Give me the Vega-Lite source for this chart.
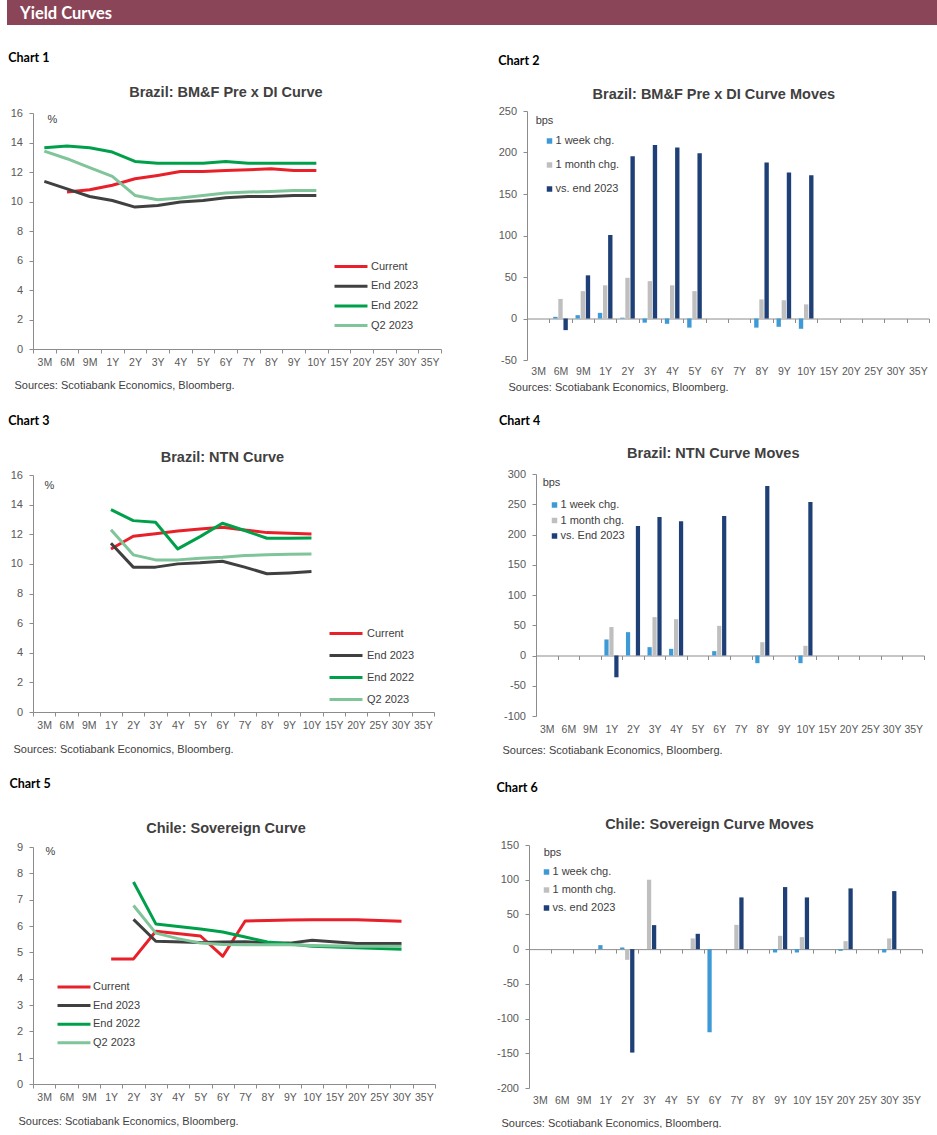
{
  "$schema": "https://vega.github.io/schema/vega-lite/v6.json",
  "background": "white",
  "padding": {"left": 7, "top": 0, "right": 0, "bottom": 0},
  "config": {
    "font": "Liberation Sans",
    "view": {"stroke": null},
    "axis": {"grid": false, "domainColor": "#8c8c8c", "tickColor": "#8c8c8c", "labelColor": "#595959", "labelFont": "Liberation Sans", "titleFont": "Liberation Sans", "titleFontWeight": "normal", "titleColor": "#404040", "titleFontSize": 11},
    "axisX": {"labelAngle": 0, "labelFontSize": 10.5, "tickSize": 4, "labelPadding": 4, "titleAlign": "left", "titleBaseline": "middle", "tickBand": "extent"},
    "axisY": {"labelFontSize": 11, "tickSize": 4, "labelPadding": 6.5, "titleAngle": 0, "titleAlign": "center", "titleBaseline": "middle", "labelOverlap": false, "labelExpr": "'' + datum.value"},
    "legend": {"labelFont": "Liberation Sans", "labelFontSize": 11, "labelColor": "#404040", "padding": 0},
    "title": {"font": "Liberation Sans", "fontSize": 14.5, "fontWeight": "bold", "color": "#404040", "frame": "bounds"}
  },
  "datasets": {
    "c1": [
      {"t": "6M", "s": "Current", "v": 10.64}, {"t": "9M", "s": "Current", "v": 10.8}, {"t": "1Y", "s": "Current", "v": 11.1}, {"t": "2Y", "s": "Current", "v": 11.54}, {"t": "3Y", "s": "Current", "v": 11.77}, {"t": "4Y", "s": "Current", "v": 12.03}, {"t": "5Y", "s": "Current", "v": 12.04}, {"t": "6Y", "s": "Current", "v": 12.1}, {"t": "7Y", "s": "Current", "v": 12.15}, {"t": "8Y", "s": "Current", "v": 12.22}, {"t": "9Y", "s": "Current", "v": 12.1}, {"t": "10Y", "s": "Current", "v": 12.1},
      {"t": "3M", "s": "End 2023", "v": 11.36}, {"t": "6M", "s": "End 2023", "v": 10.86}, {"t": "9M", "s": "End 2023", "v": 10.34}, {"t": "1Y", "s": "End 2023", "v": 10.07}, {"t": "2Y", "s": "End 2023", "v": 9.62}, {"t": "3Y", "s": "End 2023", "v": 9.73}, {"t": "4Y", "s": "End 2023", "v": 9.96}, {"t": "5Y", "s": "End 2023", "v": 10.07}, {"t": "6Y", "s": "End 2023", "v": 10.25}, {"t": "7Y", "s": "End 2023", "v": 10.34}, {"t": "8Y", "s": "End 2023", "v": 10.34}, {"t": "9Y", "s": "End 2023", "v": 10.41}, {"t": "10Y", "s": "End 2023", "v": 10.41},
      {"t": "3M", "s": "End 2022", "v": 13.65}, {"t": "6M", "s": "End 2022", "v": 13.76}, {"t": "9M", "s": "End 2022", "v": 13.65}, {"t": "1Y", "s": "End 2022", "v": 13.35}, {"t": "2Y", "s": "End 2022", "v": 12.72}, {"t": "3Y", "s": "End 2022", "v": 12.6}, {"t": "4Y", "s": "End 2022", "v": 12.6}, {"t": "5Y", "s": "End 2022", "v": 12.6}, {"t": "6Y", "s": "End 2022", "v": 12.72}, {"t": "7Y", "s": "End 2022", "v": 12.6}, {"t": "8Y", "s": "End 2022", "v": 12.6}, {"t": "9Y", "s": "End 2022", "v": 12.6}, {"t": "10Y", "s": "End 2022", "v": 12.6},
      {"t": "3M", "s": "Q2 2023", "v": 13.42}, {"t": "6M", "s": "Q2 2023", "v": 12.9}, {"t": "9M", "s": "Q2 2023", "v": 12.29}, {"t": "1Y", "s": "Q2 2023", "v": 11.7}, {"t": "2Y", "s": "Q2 2023", "v": 10.41}, {"t": "3Y", "s": "Q2 2023", "v": 10.12}, {"t": "4Y", "s": "Q2 2023", "v": 10.23}, {"t": "5Y", "s": "Q2 2023", "v": 10.41}, {"t": "6Y", "s": "Q2 2023", "v": 10.57}, {"t": "7Y", "s": "Q2 2023", "v": 10.64}, {"t": "8Y", "s": "Q2 2023", "v": 10.68}, {"t": "9Y", "s": "Q2 2023", "v": 10.75}, {"t": "10Y", "s": "Q2 2023", "v": 10.75}
    ],
    "c3": [
      {"t": "1Y", "s": "Current", "v": 11.0}, {"t": "2Y", "s": "Current", "v": 11.87}, {"t": "3Y", "s": "Current", "v": 12.04}, {"t": "4Y", "s": "Current", "v": 12.22}, {"t": "5Y", "s": "Current", "v": 12.36}, {"t": "6Y", "s": "Current", "v": 12.47}, {"t": "7Y", "s": "Current", "v": 12.29}, {"t": "8Y", "s": "Current", "v": 12.11}, {"t": "9Y", "s": "Current", "v": 12.07}, {"t": "10Y", "s": "Current", "v": 12.02},
      {"t": "1Y", "s": "End 2023", "v": 11.39}, {"t": "2Y", "s": "End 2023", "v": 9.78}, {"t": "3Y", "s": "End 2023", "v": 9.78}, {"t": "4Y", "s": "End 2023", "v": 10.0}, {"t": "5Y", "s": "End 2023", "v": 10.07}, {"t": "6Y", "s": "End 2023", "v": 10.18}, {"t": "7Y", "s": "End 2023", "v": 9.78}, {"t": "8Y", "s": "End 2023", "v": 9.33}, {"t": "9Y", "s": "End 2023", "v": 9.39}, {"t": "10Y", "s": "End 2023", "v": 9.48},
      {"t": "1Y", "s": "End 2022", "v": 13.66}, {"t": "2Y", "s": "End 2022", "v": 12.92}, {"t": "3Y", "s": "End 2022", "v": 12.81}, {"t": "4Y", "s": "End 2022", "v": 11.01}, {"t": "5Y", "s": "End 2022", "v": 11.84}, {"t": "6Y", "s": "End 2022", "v": 12.74}, {"t": "7Y", "s": "End 2022", "v": 12.25}, {"t": "8Y", "s": "End 2022", "v": 11.73}, {"t": "9Y", "s": "End 2022", "v": 11.73}, {"t": "10Y", "s": "End 2022", "v": 11.75},
      {"t": "1Y", "s": "Q2 2023", "v": 12.31}, {"t": "2Y", "s": "Q2 2023", "v": 10.61}, {"t": "3Y", "s": "Q2 2023", "v": 10.27}, {"t": "4Y", "s": "Q2 2023", "v": 10.27}, {"t": "5Y", "s": "Q2 2023", "v": 10.38}, {"t": "6Y", "s": "Q2 2023", "v": 10.45}, {"t": "7Y", "s": "Q2 2023", "v": 10.56}, {"t": "8Y", "s": "Q2 2023", "v": 10.61}, {"t": "9Y", "s": "Q2 2023", "v": 10.65}, {"t": "10Y", "s": "Q2 2023", "v": 10.67}
    ],
    "c5": [
      {"t": "1Y", "s": "Current", "v": 4.75}, {"t": "2Y", "s": "Current", "v": 4.75}, {"t": "3Y", "s": "Current", "v": 5.8}, {"t": "5Y", "s": "Current", "v": 5.62}, {"t": "6Y", "s": "Current", "v": 4.85}, {"t": "7Y", "s": "Current", "v": 6.19}, {"t": "8Y", "s": "Current", "v": 6.21}, {"t": "9Y", "s": "Current", "v": 6.23}, {"t": "10Y", "s": "Current", "v": 6.24}, {"t": "20Y", "s": "Current", "v": 6.24}, {"t": "30Y", "s": "Current", "v": 6.18},
      {"t": "2Y", "s": "End 2023", "v": 6.25}, {"t": "3Y", "s": "End 2023", "v": 5.42}, {"t": "5Y", "s": "End 2023", "v": 5.37}, {"t": "6Y", "s": "End 2023", "v": 5.39}, {"t": "7Y", "s": "End 2023", "v": 5.4}, {"t": "8Y", "s": "End 2023", "v": 5.36}, {"t": "9Y", "s": "End 2023", "v": 5.35}, {"t": "10Y", "s": "End 2023", "v": 5.46}, {"t": "20Y", "s": "End 2023", "v": 5.34}, {"t": "30Y", "s": "End 2023", "v": 5.34},
      {"t": "2Y", "s": "End 2022", "v": 7.67}, {"t": "3Y", "s": "End 2022", "v": 6.08}, {"t": "5Y", "s": "End 2022", "v": 5.89}, {"t": "6Y", "s": "End 2022", "v": 5.77}, {"t": "7Y", "s": "End 2022", "v": 5.58}, {"t": "8Y", "s": "End 2022", "v": 5.39}, {"t": "9Y", "s": "End 2022", "v": 5.32}, {"t": "10Y", "s": "End 2022", "v": 5.23}, {"t": "20Y", "s": "End 2022", "v": 5.17}, {"t": "30Y", "s": "End 2022", "v": 5.12},
      {"t": "2Y", "s": "Q2 2023", "v": 6.78}, {"t": "3Y", "s": "Q2 2023", "v": 5.73}, {"t": "4Y", "s": "Q2 2023", "v": 5.52}, {"t": "5Y", "s": "Q2 2023", "v": 5.35}, {"t": "6Y", "s": "Q2 2023", "v": 5.3}, {"t": "7Y", "s": "Q2 2023", "v": 5.29}, {"t": "8Y", "s": "Q2 2023", "v": 5.29}, {"t": "9Y", "s": "Q2 2023", "v": 5.29}, {"t": "10Y", "s": "Q2 2023", "v": 5.26}, {"t": "20Y", "s": "Q2 2023", "v": 5.23}, {"t": "30Y", "s": "Q2 2023", "v": 5.23}
    ],
    "b2": [
      {"t": "6M", "s": "1 week chg.", "v": 2}, {"t": "6M", "s": "1 month chg.", "v": 23.6}, {"t": "6M", "s": "vs. end 2023", "v": -14},
      {"t": "9M", "s": "1 week chg.", "v": 4}, {"t": "9M", "s": "1 month chg.", "v": 33}, {"t": "9M", "s": "vs. end 2023", "v": 52},
      {"t": "1Y", "s": "1 week chg.", "v": 6.8}, {"t": "1Y", "s": "1 month chg.", "v": 40}, {"t": "1Y", "s": "vs. end 2023", "v": 100.6},
      {"t": "2Y", "s": "1 week chg.", "v": 1}, {"t": "2Y", "s": "1 month chg.", "v": 49}, {"t": "2Y", "s": "vs. end 2023", "v": 195.5},
      {"t": "3Y", "s": "1 week chg.", "v": -5}, {"t": "3Y", "s": "1 month chg.", "v": 45}, {"t": "3Y", "s": "vs. end 2023", "v": 209},
      {"t": "4Y", "s": "1 week chg.", "v": -6.4}, {"t": "4Y", "s": "1 month chg.", "v": 40}, {"t": "4Y", "s": "vs. end 2023", "v": 206},
      {"t": "5Y", "s": "1 week chg.", "v": -11}, {"t": "5Y", "s": "1 month chg.", "v": 33}, {"t": "5Y", "s": "vs. end 2023", "v": 199},
      {"t": "8Y", "s": "1 week chg.", "v": -11}, {"t": "8Y", "s": "1 month chg.", "v": 23}, {"t": "8Y", "s": "vs. end 2023", "v": 188},
      {"t": "9Y", "s": "1 week chg.", "v": -10}, {"t": "9Y", "s": "1 month chg.", "v": 22}, {"t": "9Y", "s": "vs. end 2023", "v": 176},
      {"t": "10Y", "s": "1 week chg.", "v": -12.4}, {"t": "10Y", "s": "1 month chg.", "v": 17}, {"t": "10Y", "s": "vs. end 2023", "v": 172.7}
    ],
    "b4": [
      {"t": "1Y", "s": "1 week chg.", "v": 26.5}, {"t": "1Y", "s": "1 month chg.", "v": 47}, {"t": "1Y", "s": "vs. End 2023", "v": -36},
      {"t": "2Y", "s": "1 week chg.", "v": 38.6}, {"t": "2Y", "s": "vs. End 2023", "v": 214},
      {"t": "3Y", "s": "1 week chg.", "v": 13.8}, {"t": "3Y", "s": "1 month chg.", "v": 63.4}, {"t": "3Y", "s": "vs. End 2023", "v": 229},
      {"t": "4Y", "s": "1 week chg.", "v": 11}, {"t": "4Y", "s": "1 month chg.", "v": 60}, {"t": "4Y", "s": "vs. End 2023", "v": 222},
      {"t": "6Y", "s": "1 week chg.", "v": 7.2}, {"t": "6Y", "s": "1 month chg.", "v": 49}, {"t": "6Y", "s": "vs. End 2023", "v": 230.5},
      {"t": "8Y", "s": "1 week chg.", "v": -12.7}, {"t": "8Y", "s": "1 month chg.", "v": 22}, {"t": "8Y", "s": "vs. End 2023", "v": 280},
      {"t": "10Y", "s": "1 week chg.", "v": -12.7}, {"t": "10Y", "s": "1 month chg.", "v": 16}, {"t": "10Y", "s": "vs. End 2023", "v": 253.7}
    ],
    "b6": [
      {"t": "1Y", "s": "1 week chg.", "v": 5.8},
      {"t": "2Y", "s": "1 week chg.", "v": 2.4}, {"t": "2Y", "s": "1 month chg.", "v": -15.4}, {"t": "2Y", "s": "vs. end 2023", "v": -149},
      {"t": "3Y", "s": "1 month chg.", "v": 100}, {"t": "3Y", "s": "vs. end 2023", "v": 34.6},
      {"t": "5Y", "s": "1 month chg.", "v": 15.4}, {"t": "5Y", "s": "vs. end 2023", "v": 22.1},
      {"t": "6Y", "s": "1 week chg.", "v": -119.7},
      {"t": "7Y", "s": "1 month chg.", "v": 35}, {"t": "7Y", "s": "vs. end 2023", "v": 74.5},
      {"t": "9Y", "s": "1 week chg.", "v": -4.8}, {"t": "9Y", "s": "1 month chg.", "v": 19.2}, {"t": "9Y", "s": "vs. end 2023", "v": 89.4},
      {"t": "10Y", "s": "1 week chg.", "v": -4.8}, {"t": "10Y", "s": "1 month chg.", "v": 17.3}, {"t": "10Y", "s": "vs. end 2023", "v": 74.5},
      {"t": "20Y", "s": "1 week chg.", "v": -2.4}, {"t": "20Y", "s": "1 month chg.", "v": 11.5}, {"t": "20Y", "s": "vs. end 2023", "v": 87.5},
      {"t": "30Y", "s": "1 week chg.", "v": -4.8}, {"t": "30Y", "s": "1 month chg.", "v": 15.4}, {"t": "30Y", "s": "vs. end 2023", "v": 83.6}
    ]
  },
  "columns": 1,
  "spacing": 27,
  "resolve": {"scale": {"color": "independent", "strokeWidth": "independent", "xOffset": "independent", "x": "independent", "y": "independent"}, "legend": {"color": "independent"}},
  "concat": [
    {
      "width": 930, "height": 25,
      "view": {"fill": "#8B4558", "stroke": null},
      "data": {"values": [{"t": "Yield Curves"}]},
      "mark": {"type": "text", "opacity": 0},
      "encoding": {"text": {"field": "t"}},
      "title": {"text": "Yield Curves", "orient": "bottom", "anchor": "start", "frame": "group", "offset": -19, "dx": 13, "baseline": "top", "font": "Lato", "fontSize": 16.5, "fontWeight": "bold", "color": "white"}
    },
    {
      "spacing": 0,
      "resolve": {"scale": {"color": "independent", "strokeWidth": "independent", "xOffset": "independent", "x": "independent", "y": "independent"}, "legend": {"color": "independent"}},
      "hconcat": [
        {
          "width": 1, "height": 1,
          "data": {"values": [{"t": ""}]},
          "mark": {"type": "text", "opacity": 0},
          "encoding": {"text": {"field": "t"}}
        },
        {
          "spacing": 23,
          "resolve": {"scale": {"color": "independent", "strokeWidth": "independent", "xOffset": "independent", "x": "independent", "y": "independent"}, "legend": {"color": "independent"}},
          "vconcat": [
            {
              "spacing": 56,
              "center": true,
              "resolve": {"scale": {"color": "independent", "strokeWidth": "independent", "xOffset": "independent", "x": "independent", "y": "independent"}, "legend": {"color": "independent"}},
              "hconcat": [
                {
                  "title": {"text": "Chart 1", "anchor": "start", "font": "Lato", "fontSize": 12.5, "fontWeight": "bold", "color": "black", "offset": 20, "dx": -2},
                  "vconcat": [{
                    "width": 408, "height": 236,
                    "title": {"text": "Brazil: BM&F Pre x DI Curve", "offset": 7},
                    "data": {"name": "c1"},
                    "mark": {"type": "line", "strokeJoin": "round"},
                    "encoding": {
                      "x": {"field": "t", "type": "nominal", "scale": {"type": "band", "domain": ["3M","6M","9M","1Y","2Y","3Y","4Y","5Y","6Y","7Y","8Y","9Y","10Y","15Y","20Y","25Y","30Y","35Y"], "paddingInner": 0, "paddingOuter": 0},
                            "axis": {"title": "Sources: Scotiabank Economics, Bloomberg.", "titleX": -19, "titleY": 36}},
                      "y": {"field": "v", "type": "quantitative", "scale": {"domain": [0, 16], "nice": false}, "axis": {"values": [0,2,4,6,8,10,12,14,16], "title": "%", "titleX": 19, "titleY": 6}},
                      "color": {"field": "s", "type": "nominal", "scale": {"domain": ["Current","End 2023","End 2022","Q2 2023"], "range": ["#E8202A","#404040","#00A04B","#80C49A"]},
                                "legend": {"title": null, "orient": "none", "legendX": 312, "legendY": 147.5, "symbolType": "M-4,0H4", "symbolSize": 68, "symbolStrokeWidth": 3.5, "labelOffset": 14, "rowPadding": 7.7}},
                      "strokeWidth": {"field": "s", "type": "nominal", "scale": {"domain": ["Current","End 2023","End 2022","Q2 2023"], "range": [3, 3, 3, 3.8]}, "legend": null}
                    }
                  }]
                },
                {
                  "title": {"text": "Chart 2", "anchor": "start", "font": "Lato", "fontSize": 12.5, "fontWeight": "bold", "color": "black", "offset": 19, "dx": 0},
                  "vconcat": [{
                    "width": 402, "height": 249,
                    "title": {"text": "Brazil: BM&F Pre x DI Curve Moves", "offset": 3},
                    "data": {"name": "b2"},
                    "mark": {"type": "bar"},
                    "encoding": {
                      "x": {"field": "t", "type": "nominal", "scale": {"domain": ["3M","6M","9M","1Y","2Y","3Y","4Y","5Y","6Y","7Y","8Y","9Y","10Y","15Y","20Y","25Y","30Y","35Y"], "paddingInner": 0, "paddingOuter": 0},
                            "axis": {"title": "Sources: Scotiabank Economics, Bloomberg.", "offset": -41.5, "titleX": -19, "titleY": 68.5, "labelPadding": 43.5}},
                      "xOffset": {"field": "s", "type": "nominal", "scale": {"domain": ["1 week chg.", "1 month chg.", "vs. end 2023"], "paddingInner": 0.15, "paddingOuter": 0.75}},
                      "y": {"field": "v", "type": "quantitative", "scale": {"domain": [-50, 250], "nice": false}, "axis": {"values": [-50,0,50,100,150,200,250], "title": "bps", "titleX": 17, "titleY": 9}},
                      "color": {"field": "s", "type": "nominal", "scale": {"domain": ["1 week chg.", "1 month chg.", "vs. end 2023"], "range": ["#3D9AD6", "#BFBFBF", "#1F3F77"]},
                                "legend": {"title": null, "orient": "none", "legendX": 17, "legendY": 24.5, "symbolType": "square", "symbolSize": 30, "symbolStrokeWidth": 0, "labelOffset": 0.5, "rowPadding": 12}}
                    }
                  }]
                }
              ]
            },
            {
              "spacing": 64,
              "center": true,
              "resolve": {"scale": {"color": "independent", "strokeWidth": "independent", "xOffset": "independent", "x": "independent", "y": "independent"}, "legend": {"color": "independent"}},
              "hconcat": [
                {
                  "title": {"text": "Chart 3", "anchor": "start", "font": "Lato", "fontSize": 12.5, "fontWeight": "bold", "color": "black", "offset": 22, "dx": -2},
                  "vconcat": [{
                    "width": 401, "height": 237,
                    "title": {"text": "Brazil: NTN Curve", "offset": 4},
                    "data": {"name": "c3"},
                    "mark": {"type": "line", "strokeJoin": "round"},
                    "encoding": {
                      "x": {"field": "t", "type": "nominal", "scale": {"type": "band", "domain": ["3M","6M","9M","1Y","2Y","3Y","4Y","5Y","6Y","7Y","8Y","9Y","10Y","15Y","20Y","25Y","30Y","35Y"], "paddingInner": 0, "paddingOuter": 0},
                            "axis": {"title": "Sources: Scotiabank Economics, Bloomberg.", "titleX": -20, "titleY": 37}},
                      "y": {"field": "v", "type": "quantitative", "scale": {"domain": [0, 16], "nice": false}, "axis": {"values": [0,2,4,6,8,10,12,14,16], "title": "%", "titleX": 16, "titleY": 10}},
                      "color": {"field": "s", "type": "nominal", "scale": {"domain": ["Current","End 2023","End 2022","Q2 2023"], "range": ["#E8202A","#404040","#00A04B","#80C49A"]},
                                "legend": {"title": null, "orient": "none", "legendX": 307, "legendY": 152.5, "symbolType": "M-4,0H4", "symbolSize": 68, "symbolStrokeWidth": 3.5, "labelOffset": 15, "rowPadding": 10}},
                      "strokeWidth": {"field": "s", "type": "nominal", "scale": {"domain": ["Current","End 2023","End 2022","Q2 2023"], "range": [3, 3, 3, 3.8]}, "legend": null}
                    }
                  }]
                },
                {
                  "title": {"text": "Chart 4", "anchor": "start", "font": "Lato", "fontSize": 12.5, "fontWeight": "bold", "color": "black", "offset": 18, "dx": -3},
                  "vconcat": [{
                    "width": 388, "height": 242,
                    "title": {"text": "Brazil: NTN Curve Moves", "offset": 7},
                    "data": {"name": "b4"},
                    "mark": {"type": "bar"},
                    "encoding": {
                      "x": {"field": "t", "type": "nominal", "scale": {"domain": ["3M","6M","9M","1Y","2Y","3Y","4Y","5Y","6Y","7Y","8Y","9Y","10Y","15Y","20Y","25Y","30Y","35Y"], "paddingInner": 0, "paddingOuter": 0},
                            "axis": {"title": "Sources: Scotiabank Economics, Bloomberg.", "offset": -60.5, "titleX": -34, "titleY": 94.5, "labelPadding": 64.5}},
                      "xOffset": {"field": "s", "type": "nominal", "scale": {"domain": ["1 week chg.", "1 month chg.", "vs. End 2023"], "paddingInner": 0.15, "paddingOuter": 0.75}},
                      "y": {"field": "v", "type": "quantitative", "scale": {"domain": [-100, 300], "nice": false}, "axis": {"values": [-100,-50,0,50,100,150,200,250,300], "title": "bps", "titleX": 15, "titleY": 8}},
                      "color": {"field": "s", "type": "nominal", "scale": {"domain": ["1 week chg.", "1 month chg.", "vs. End 2023"], "range": ["#3D9AD6", "#BFBFBF", "#1F3F77"]},
                                "legend": {"title": null, "orient": "none", "legendX": 13, "legendY": 25.5, "symbolType": "square", "symbolSize": 30, "symbolStrokeWidth": 0, "labelOffset": 0.5, "rowPadding": 3.5}}
                    }
                  }]
                }
              ]
            },
            {
              "spacing": 60,
              "center": true,
              "resolve": {"scale": {"color": "independent", "strokeWidth": "independent", "xOffset": "independent", "x": "independent", "y": "independent"}, "legend": {"color": "independent"}},
              "hconcat": [
                {
                  "title": {"text": "Chart 5", "anchor": "start", "font": "Lato", "fontSize": 12.5, "fontWeight": "bold", "color": "black", "offset": 30, "dx": -7},
                  "vconcat": [{
                    "width": 402, "height": 237,
                    "title": {"text": "Chile:  Sovereign Curve", "offset": 5},
                    "data": {"name": "c5"},
                    "mark": {"type": "line", "strokeJoin": "round"},
                    "encoding": {
                      "x": {"field": "t", "type": "nominal", "scale": {"type": "band", "domain": ["3M","6M","9M","1Y","2Y","3Y","4Y","5Y","6Y","7Y","8Y","9Y","10Y","15Y","20Y","25Y","30Y","35Y"], "paddingInner": 0, "paddingOuter": 0},
                            "axis": {"title": "Sources: Scotiabank Economics, Bloomberg.", "titleX": -15, "titleY": 37}},
                      "y": {"field": "v", "type": "quantitative", "scale": {"domain": [0, 9], "nice": false}, "axis": {"values": [0,1,2,3,4,5,6,7,8,9], "title": "%", "titleX": 17, "titleY": 4}},
                      "color": {"field": "s", "type": "nominal", "scale": {"domain": ["Current","End 2023","End 2022","Q2 2023"], "range": ["#E8202A","#404040","#00A04B","#80C49A"]},
                                "legend": {"title": null, "orient": "none", "legendX": 35, "legendY": 134, "symbolType": "M-4,0H4", "symbolSize": 68, "symbolStrokeWidth": 3.5, "labelOffset": 13, "rowPadding": 6.6}},
                      "strokeWidth": {"field": "s", "type": "nominal", "scale": {"domain": ["Current","End 2023","End 2022","Q2 2023"], "range": [3, 3, 3, 3.8]}, "legend": null}
                    }
                  }]
                },
                {
                  "title": {"text": "Chart 6", "anchor": "start", "font": "Lato", "fontSize": 12.5, "fontWeight": "bold", "color": "black", "offset": 22, "dx": 0},
                  "vconcat": [{
                    "width": 393, "height": 243,
                    "title": {"text": "Chile:  Sovereign Curve Moves", "offset": 7},
                    "data": {"name": "b6"},
                    "mark": {"type": "bar"},
                    "encoding": {
                      "x": {"field": "t", "type": "nominal", "scale": {"domain": ["3M","6M","9M","1Y","2Y","3Y","4Y","5Y","6Y","7Y","8Y","9Y","10Y","15Y","20Y","25Y","30Y","35Y"], "paddingInner": 0, "paddingOuter": 0},
                            "axis": {"title": "Sources: Scotiabank Economics, Bloomberg.", "offset": -138.86, "titleX": -28, "titleY": 173.86, "labelPadding": 141.86}},
                      "xOffset": {"field": "s", "type": "nominal", "scale": {"domain": ["1 week chg.", "1 month chg.", "vs. end 2023"], "paddingInner": 0.15, "paddingOuter": 0.75}},
                      "y": {"field": "v", "type": "quantitative", "scale": {"domain": [-200, 150], "nice": false}, "axis": {"values": [-200,-150,-100,-50,0,50,100,150], "title": "bps", "titleX": 23, "titleY": 7}},
                      "color": {"field": "s", "type": "nominal", "scale": {"domain": ["1 week chg.", "1 month chg.", "vs. end 2023"], "range": ["#3D9AD6", "#BFBFBF", "#1F3F77"]},
                                "legend": {"title": null, "orient": "none", "legendX": 12, "legendY": 21.5, "symbolType": "square", "symbolSize": 30, "symbolStrokeWidth": 0, "labelOffset": 0.5, "rowPadding": 6}}
                    }
                  }]
                }
              ]
            }
          ]
        }
      ]
    }
  ]
}
